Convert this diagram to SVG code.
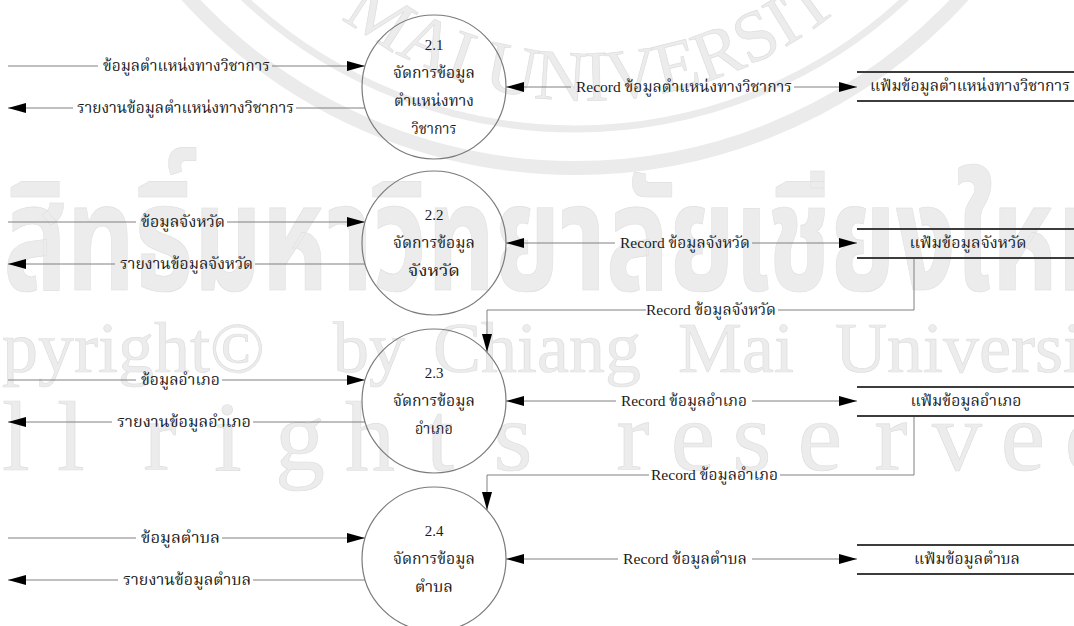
<svg xmlns="http://www.w3.org/2000/svg" width="1074" height="626" viewBox="0 0 1074 626">
  <style>
    .wm { fill: #ececec; stroke: #dedede; stroke-width: 0.7; }
    .wmth { fill: #ececec; stroke: #e0e0e0; stroke-width: 0.7; font-family: "Noto Sans Thai", "DejaVu Sans", sans-serif; font-weight: bold; }
    .wmlat { font-family: "Liberation Serif", serif; }
    .ring { fill: none; stroke: #ebebeb; }
    .lbl { font-family: "Liberation Serif", "Noto Serif Thai", "Noto Sans Thai", serif; font-size: 15px; fill: #1a1a1a; }
    .num { font-family: "Liberation Serif", serif; font-size: 15px; fill: #1a1a1a; }
    .proc { fill: none; stroke: #7a7a7a; stroke-width: 1.2; }
    .store { stroke: #3c3c3c; stroke-width: 2; }
    .flow { fill: none; stroke: #808080; stroke-width: 1; }
    .arr { marker-end: url(#ah); }
  </style>
  <defs>
    <marker id="ah" viewBox="0 0 18 10" refX="18" refY="5" markerWidth="18" markerHeight="10" markerUnits="userSpaceOnUse" orient="auto">
      <path d="M0,0 L18,5 L0,10 Z" fill="#000"/>
    </marker>
    <path id="sealArc" d="M209,-163 A400,400 0 0,0 961,-163"/>
  </defs>

  <rect width="1074" height="626" fill="#ffffff"/>

  <!-- background watermark -->
  <g id="watermark">
    <circle class="ring" cx="575" cy="-355" r="484" stroke-width="7"/>
    <circle class="ring" cx="575" cy="-355" r="523" stroke-width="14"/>
    <text class="wm wmlat" font-size="72"><textPath href="#sealArc" startOffset="227">MAI UNIVERSITY</textPath></text>
    <text class="wmth" x="-122" y="290" font-size="150" textLength="1247" lengthAdjust="spacingAndGlyphs">ลิขสิทธิ์มหาวิทยาลัยเชียงใหม่</text>
    <text class="wm wmlat" font-size="72" y="372"><tspan x="-82">Copyright©</tspan><tspan x="333">by</tspan><tspan x="433">Chiang</tspan><tspan x="678">Mai</tspan><tspan x="835">University</tspan></text>
    <text class="wm wmlat" font-size="100" y="470" text-anchor="middle" x="-50 16 71 110 160 228 300 370 440 513 570 633 693 752 820 891 957 1023 1090">All rights reserved</text>
  </g>

  <!-- connectors -->
  <g id="connectors">
    <!-- 2.1 -->
    <path class="flow" d="M8,66 H98"/>
    <path class="flow arr" d="M272,66 H365"/>
    <path class="flow" d="M365,108 H296"/>
    <path class="flow arr" d="M73,108 H8"/>
    <path class="flow arr" d="M571,87 H506"/>
    <path class="flow arr" d="M794,87 H857"/>
    <text class="lbl" x="186.5" y="71" text-anchor="middle" textLength="167" lengthAdjust="spacingAndGlyphs">ข้อมูลตำแหน่งทางวิชาการ</text>
    <text class="lbl" x="185.5" y="113" text-anchor="middle" textLength="217" lengthAdjust="spacingAndGlyphs">รายงานข้อมูลตำแหน่งทางวิชาการ</text>
    <text class="lbl" x="684" y="92" text-anchor="middle" textLength="216" lengthAdjust="spacingAndGlyphs">Record ข้อมูลตำแหน่งทางวิชาการ</text>

    <!-- 2.2 -->
    <path class="flow" d="M8,222 H136"/>
    <path class="flow arr" d="M227,222 H365"/>
    <path class="flow" d="M365,264 H255"/>
    <path class="flow arr" d="M115,264 H8"/>
    <path class="flow arr" d="M615,243 H506"/>
    <path class="flow arr" d="M752,243 H857"/>
    <text class="lbl" x="183" y="227" text-anchor="middle" textLength="84" lengthAdjust="spacingAndGlyphs">ข้อมูลจังหวัด</text>
    <text class="lbl" x="186.5" y="269" text-anchor="middle" textLength="133" lengthAdjust="spacingAndGlyphs">รายงานข้อมูลจังหวัด</text>
    <text class="lbl" x="685" y="248" text-anchor="middle" textLength="130" lengthAdjust="spacingAndGlyphs">Record ข้อมูลจังหวัด</text>

    <!-- store 2.2 to 2.3 -->
    <path class="flow" d="M914,258 V310 H778"/>
    <path class="flow arr" d="M646,310 H487 V352"/>
    <text class="lbl" x="711" y="315" text-anchor="middle" textLength="130" lengthAdjust="spacingAndGlyphs">Record ข้อมูลจังหวัด</text>

    <!-- 2.3 -->
    <path class="flow" d="M8,380 H136"/>
    <path class="flow arr" d="M222,380 H365"/>
    <path class="flow" d="M365,422 H253"/>
    <path class="flow arr" d="M112,422 H8"/>
    <path class="flow arr" d="M616,401 H506"/>
    <path class="flow arr" d="M752,401 H857"/>
    <text class="lbl" x="180.5" y="385" text-anchor="middle" textLength="79" lengthAdjust="spacingAndGlyphs">ข้อมูลอำเภอ</text>
    <text class="lbl" x="184" y="427" text-anchor="middle" textLength="134" lengthAdjust="spacingAndGlyphs">รายงานข้อมูลอำเภอ</text>
    <text class="lbl" x="684" y="406" text-anchor="middle" textLength="126" lengthAdjust="spacingAndGlyphs">Record ข้อมูลอำเภอ</text>

    <!-- store 2.3 to 2.4 -->
    <path class="flow" d="M914,416 V475 H780"/>
    <path class="flow arr" d="M649,475 H487 V510"/>
    <text class="lbl" x="714.5" y="480" text-anchor="middle" textLength="127" lengthAdjust="spacingAndGlyphs">Record ข้อมูลอำเภอ</text>

    <!-- 2.4 -->
    <path class="flow" d="M8,538 H136"/>
    <path class="flow arr" d="M222,538 H365"/>
    <path class="flow" d="M365,580 H253"/>
    <path class="flow arr" d="M118,580 H8"/>
    <path class="flow arr" d="M618,559 H506"/>
    <path class="flow arr" d="M752,559 H857"/>
    <text class="lbl" x="180.5" y="543" text-anchor="middle" textLength="79" lengthAdjust="spacingAndGlyphs">ข้อมูลตำบล</text>
    <text class="lbl" x="187" y="585" text-anchor="middle" textLength="128" lengthAdjust="spacingAndGlyphs">รายงานข้อมูลตำบล</text>
    <text class="lbl" x="685" y="564" text-anchor="middle" textLength="124" lengthAdjust="spacingAndGlyphs">Record ข้อมูลตำบล</text>
  </g>

  <!-- processes -->
  <g id="p2-1">
    <circle class="proc" cx="434" cy="87" r="72"/>
    <text class="num" x="434" y="50" text-anchor="middle">2.1</text>
    <text class="lbl" x="434" y="78" text-anchor="middle" textLength="82" lengthAdjust="spacingAndGlyphs">จัดการข้อมูล</text>
    <text class="lbl" x="434" y="106" text-anchor="middle" textLength="80" lengthAdjust="spacingAndGlyphs">ตำแหน่งทาง</text>
    <text class="lbl" x="434" y="134" text-anchor="middle" textLength="45" lengthAdjust="spacingAndGlyphs">วิชาการ</text>
  </g>
  <g id="p2-2">
    <circle class="proc" cx="434" cy="243" r="72"/>
    <text class="num" x="434" y="220" text-anchor="middle">2.2</text>
    <text class="lbl" x="434" y="248" text-anchor="middle" textLength="82" lengthAdjust="spacingAndGlyphs">จัดการข้อมูล</text>
    <text class="lbl" x="434" y="276" text-anchor="middle" textLength="52" lengthAdjust="spacingAndGlyphs">จังหวัด</text>
  </g>
  <g id="p2-3">
    <circle class="proc" cx="434" cy="401" r="72"/>
    <text class="num" x="434" y="378" text-anchor="middle">2.3</text>
    <text class="lbl" x="434" y="406" text-anchor="middle" textLength="82" lengthAdjust="spacingAndGlyphs">จัดการข้อมูล</text>
    <text class="lbl" x="434" y="434" text-anchor="middle" textLength="38" lengthAdjust="spacingAndGlyphs">อำเภอ</text>
  </g>
  <g id="p2-4">
    <circle class="proc" cx="434" cy="559" r="72"/>
    <text class="num" x="434" y="536" text-anchor="middle">2.4</text>
    <text class="lbl" x="434" y="564" text-anchor="middle" textLength="82" lengthAdjust="spacingAndGlyphs">จัดการข้อมูล</text>
    <text class="lbl" x="434" y="592" text-anchor="middle" textLength="38" lengthAdjust="spacingAndGlyphs">ตำบล</text>
  </g>

  <!-- data stores -->
  <g id="store-position">
    <line class="store" x1="857" y1="72" x2="1074" y2="72"/>
    <line class="store" x1="857" y1="101" x2="1074" y2="101"/>
    <text class="lbl" x="970" y="91" text-anchor="middle" textLength="200" lengthAdjust="spacingAndGlyphs">แฟ้มข้อมูลตำแหน่งทางวิชาการ</text>
  </g>
  <g id="store-province">
    <line class="store" x1="857" y1="229" x2="1074" y2="229"/>
    <line class="store" x1="857" y1="258" x2="1074" y2="258"/>
    <text class="lbl" x="968" y="248" text-anchor="middle" textLength="117" lengthAdjust="spacingAndGlyphs">แฟ้มข้อมูลจังหวัด</text>
  </g>
  <g id="store-district">
    <line class="store" x1="857" y1="387" x2="1074" y2="387"/>
    <line class="store" x1="857" y1="416" x2="1074" y2="416"/>
    <text class="lbl" x="966" y="406" text-anchor="middle" textLength="111" lengthAdjust="spacingAndGlyphs">แฟ้มข้อมูลอำเภอ</text>
  </g>
  <g id="store-subdistrict">
    <line class="store" x1="857" y1="545" x2="1074" y2="545"/>
    <line class="store" x1="857" y1="574" x2="1074" y2="574"/>
    <text class="lbl" x="967" y="564" text-anchor="middle" textLength="106" lengthAdjust="spacingAndGlyphs">แฟ้มข้อมูลตำบล</text>
  </g>
</svg>
